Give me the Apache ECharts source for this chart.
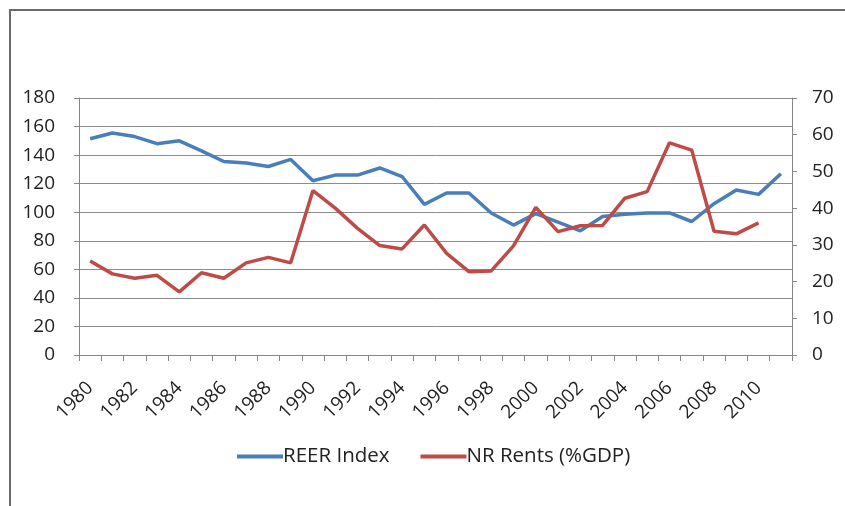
<!DOCTYPE html>
<html>
<head>
<meta charset="utf-8">
<script src="https://cdn.jsdelivr.net/npm/echarts@6/dist/echarts.min.js"></script>
<style>
html,body{margin:0;padding:0;background:#fff;}
#c{width:845px;height:506px;}
</style>
</head>
<body>
<div id="c"></div>
<script>
const years = ['1980','1981','1982','1983','1984','1985','1986','1987','1988','1989','1990','1991','1992','1993','1994','1995','1996','1997','1998','1999','2000','2001','2002','2003','2004','2005','2006','2007','2008','2009','2010','2011'];
const reerIndex = [151.5,155.5,153,148,150,143,135.5,134.5,132,137,122,126,126,131,125,105.5,113.5,113.5,99.5,91,99,93,87,97,98.5,99.5,99.5,93.5,106,115.5,112.5,127];
const nrRents = [25.6,22.1,20.9,21.7,17.2,22.4,20.9,25.1,26.6,25.1,44.8,40,34.5,29.8,28.9,35.4,27.7,22.7,22.9,29.7,40.2,33.6,35.2,35.3,42.7,44.5,57.8,55.8,33.7,33,36,null];
const leftTicks = {min:0, max:180, interval:20};
const rightTicks = {min:0, max:70, interval:10};

const FONT = '"Open Sans", sans-serif';
const chart = echarts.init(document.getElementById('c'), null, {renderer:'canvas'});
chart.setOption({
  backgroundColor:'#ffffff',
  animation:false,
  graphic:[{
    type:'rect',
    shape:{x:10, y:10, width:900, height:600},
    style:{fill:'none', stroke:'#6a6a6a', lineWidth:2},
    silent:true, z:-1
  }],
  grid:{left:79, right:53, top:98, bottom:151, containLabel:false},
  legend:{
    left:237, top:446, padding:0,
    itemWidth:46, itemHeight:4, itemGap:31,
    icon:'rect',
    textStyle:{fontFamily:FONT, fontSize:20.5, color:'#222', padding:[0,0,0,-5]},
    data:['REER Index','NR Rents (%GDP)']
  },
  xAxis:{
    type:'category',
    data:years,
    boundaryGap:true,
    axisLine:{show:true, lineStyle:{color:'#868686', width:1}},
    axisTick:{show:true, interval:0, length:6, lineStyle:{color:'#868686'}},
    axisLabel:{interval:1, rotate:45, margin:30, fontFamily:FONT, fontSize:19, color:'#222'},
    splitLine:{show:false}
  },
  yAxis:[{
    type:'value',
    min:leftTicks.min, max:leftTicks.max, interval:leftTicks.interval,
    axisLine:{show:true, lineStyle:{color:'#868686'}},
    axisTick:{show:true, length:5, lineStyle:{color:'#868686'}},
    axisLabel:{margin:24, fontFamily:FONT, fontSize:19, color:'#222'},
    splitLine:{show:true, lineStyle:{color:'#8c8c8c', width:1}}
  },{
    type:'value',
    position:'right',
    min:rightTicks.min, max:rightTicks.max, interval:rightTicks.interval,
    axisLine:{show:true, lineStyle:{color:'#868686'}},
    axisTick:{show:true, length:5, lineStyle:{color:'#868686'}},
    axisLabel:{margin:20, fontFamily:FONT, fontSize:19, color:'#222'},
    splitLine:{show:false}
  }],
  series:[{
    name:'REER Index',
    type:'line',
    yAxisIndex:0,
    data:reerIndex,
    showSymbol:false,
    symbol:'none',
    lineStyle:{color:'#4A7EBB', width:3.5},
    itemStyle:{color:'#4A7EBB'}
  },{
    name:'NR Rents (%GDP)',
    type:'line',
    yAxisIndex:1,
    data:nrRents,
    showSymbol:false,
    symbol:'none',
    lineStyle:{color:'#BE4B48', width:3.5},
    itemStyle:{color:'#BE4B48'}
  }]
});
</script>
</body>
</html>
